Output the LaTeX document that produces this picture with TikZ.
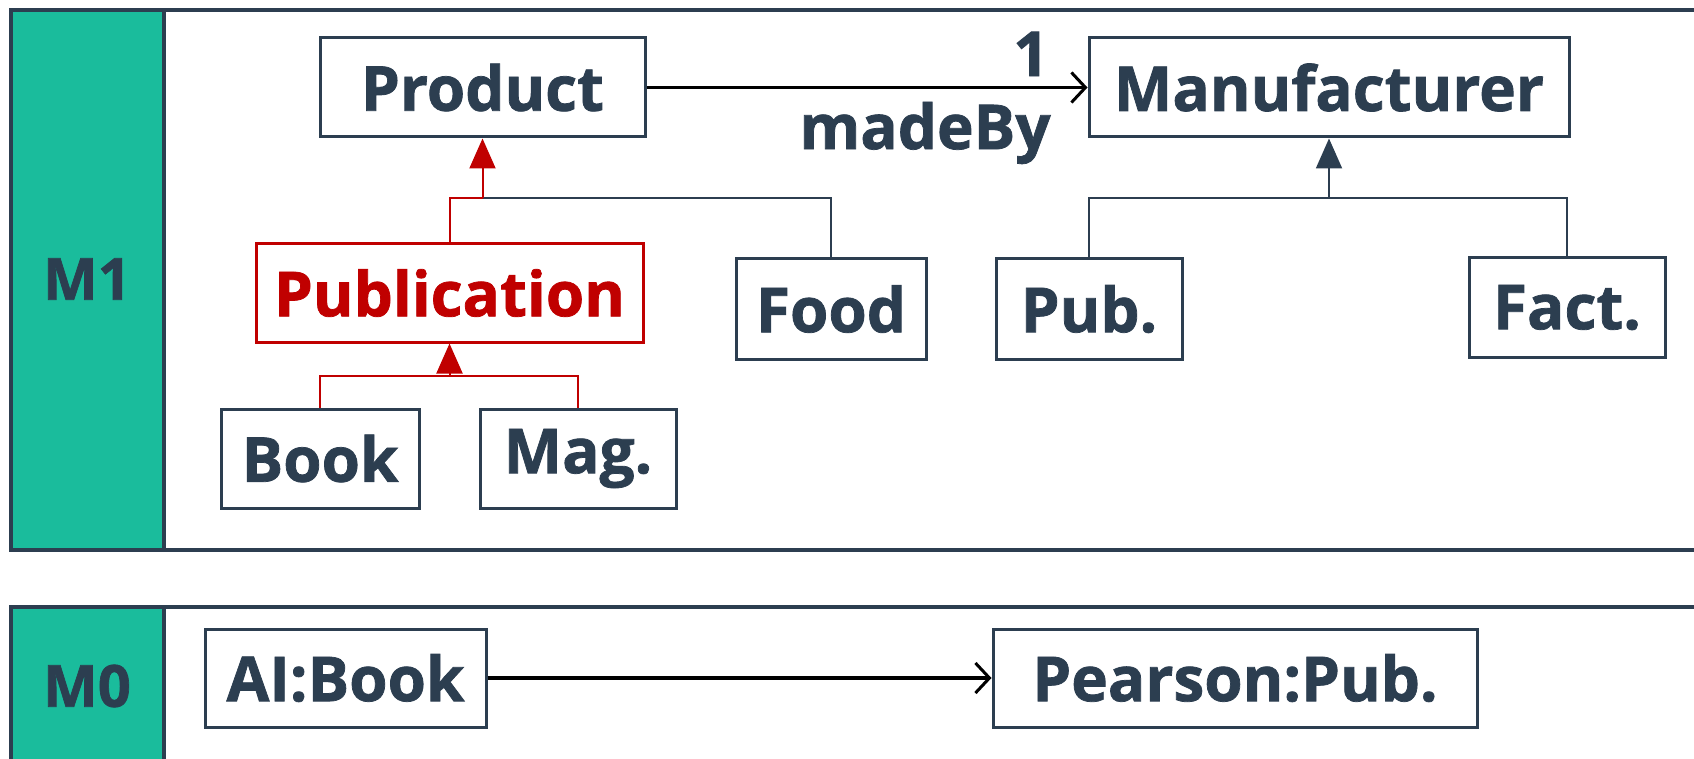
\documentclass[tikz,border=0pt]{standalone}
\usepackage{fontspec}
\setmainfont{Open Sans}[BoldFont={* Bold}, BoldFeatures={FakeBold=1.2}]
\usetikzlibrary{arrows.meta}
\definecolor{ink}{HTML}{2C3E50}
\definecolor{teal}{HTML}{1ABC9C}
\definecolor{accent}{HTML}{C00000}
\tikzset{
  cls/.style={draw=ink, line width=3pt, fill=white, text=ink, inner sep=0pt,
    font=\bfseries\fontsize{62}{62}\selectfont},
  hot/.style={cls, draw=accent, text=accent},
  gen/.style={draw=ink, line width=2pt},
  genhot/.style={draw=accent, line width=2pt},
  tri/.style={-{Triangle[width=26pt,length=30pt]}},
  assoc/.style={draw=black, line width=3.5pt, -{Straight Barb[length=14pt,width=30pt,line width=3pt]}},
  panel/.style={draw=ink, line width=3.5pt, fill=white},
  tag/.style={fill=teal, draw=ink, line width=3.5pt},
  lvl/.style={text=ink, font=\bfseries\fontsize{58}{58}\selectfont},
  mult/.style={text=ink, font=\bfseries\fontsize{62}{62}\selectfont, inner sep=0pt}
}
\begin{document}
\begin{tikzpicture}[x=1pt,y=-1pt]
\useasboundingbox (0,0) rectangle (1694,759);
\clip (0,0) rectangle (1694,759);

% level panels
\draw[panel] (11,10) rectangle (1720,550);
\draw[tag] (11,10) rectangle (164,550);
\node[lvl] (m1) at (87,279) {M1};
\draw[panel] (11,607) rectangle (1720,800);
\draw[tag] (11,607) rectangle (164,800);
\node[lvl] (m0) at (87,686) {M0};

% M1 classes
\node[cls, minimum width=325pt, minimum height=99pt] (product) at (482.5,87.5) {Product};
\node[cls, minimum width=480pt, minimum height=99pt] (manuf) at (1329,87.5) {Manufacturer};
\node[hot, minimum width=387pt, minimum height=98pt] (publ) at (449.5,293) {Publication};
\node[cls, minimum width=190pt, minimum height=100pt] (food) at (831,309) {Food};
\node[cls, minimum width=186pt, minimum height=100pt] (pub) at (1089,309) {Pub.};
\node[cls, minimum width=196pt, minimum height=99pt] (fact) at (1567,307.5) {Fact.};
\node[cls, minimum width=198pt, minimum height=99pt] (book) at (320,458.5) {Book};
\node[cls, minimum width=196pt, minimum height=99pt] (mag) at (578,458.5) {Mag.};

% generalisation junctions
\coordinate (jprod) at (482.5,198);
\coordinate (jpub) at (449.5,376);
\coordinate (jman) at (1329,198);

% Product hierarchy
\draw[gen] (jprod) -| (food.north);
\draw[genhot] (publ.north) |- (jprod);
\draw[genhot, tri, accent] (jprod) -- (product.south);
% Publication hierarchy
\draw[genhot] (book.north) |- (jpub);
\draw[genhot] (mag.north) |- (jpub);
\draw[genhot, tri, accent] (jpub) -- (publ.south);
% Manufacturer hierarchy
\draw[gen] (pub.north) |- (jman);
\draw[gen] (fact.north) |- (jman);
\draw[gen, tri, ink] (jman) -- (manuf.south);

% association
\draw[assoc] (product.east) -- (manuf.west);
\node[mult] (one) at (1031,54) {1};
\node[mult] (madeby) at (925,133) {madeBy};

% M0 objects
\node[cls, minimum width=281pt, minimum height=98pt] (ai) at (345.5,678) {AI:Book};
\node[cls, minimum width=484pt, minimum height=98pt] (pearson) at (1235,678) {Pearson:Pub.};
\draw[assoc] (ai.east) -- (pearson.west);
\end{tikzpicture}
\end{document}
